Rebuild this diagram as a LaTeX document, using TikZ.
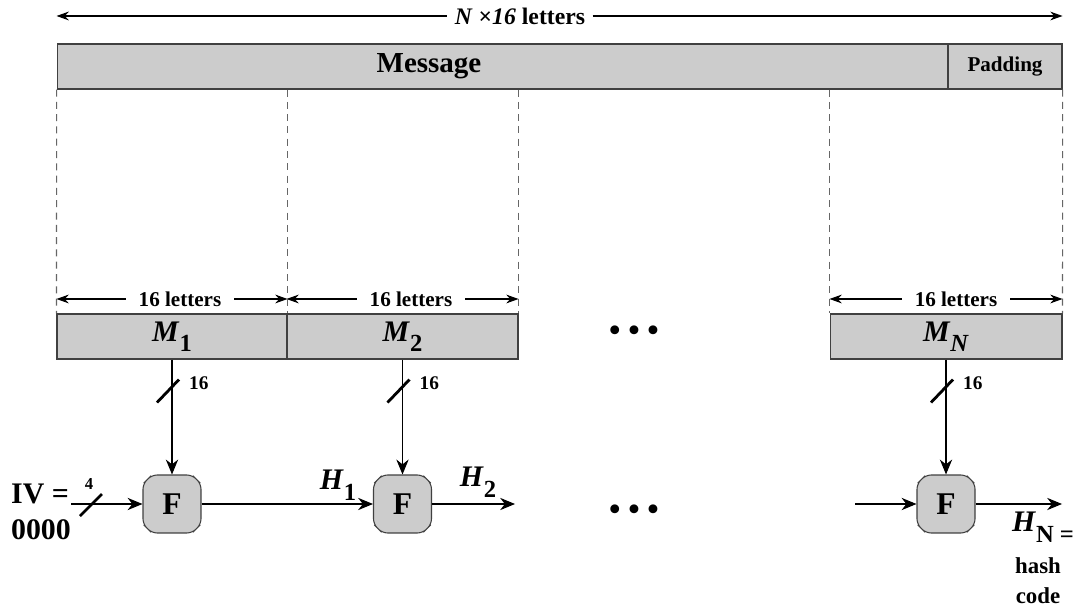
\documentclass[tikz,border=0pt]{standalone}
\usepackage{fontspec}
\setmainfont{Liberation Serif}
\usepackage{tikz}
\usetikzlibrary{arrows.meta}
\usetikzlibrary{shapes.misc}
\usetikzlibrary{positioning}

\newcommand{\lowsub}[1]{\raisebox{-0.35em}{\fontsize{14}{14}\selectfont #1}}

\begin{document}
\begin{tikzpicture}[x=0.02cm, y=-0.02cm, line width=0.6pt,
                    >={Stealth[length=7pt,width=5pt]}]
	\useasboundingbox (0,0) rectangle (1077,607);

	\begin{scope}[every node/.style={draw=black!75, fill=black!20, minimum height=0.9cm, inner sep=0pt,
	              font=\fontsize{17}{19}\selectfont\bfseries}]
		\node[minimum width=17.82cm] (msg) at (502.5,66.5) {};
		\node[minimum width=2.28cm, font=\fontsize{12}{14}\selectfont\bfseries] (pad) at (1005,66.5) {Padding};
		\node[minimum width=4.6cm] (m1) at (172,336.5) {\textit{M}\lowsub{1}};
		\node[minimum width=4.62cm] (m2) at (402.5,336.5) {\textit{M}\lowsub{2}};
		\node[minimum width=4.64cm] (mn) at (946,336.5) {\textit{M}\lowsub{\textit{N}}};
	\end{scope}
	\node[font=\fontsize{16.5}{18}\selectfont\bfseries] (msgtxt) at (429,66.5) {Message};

	% lengths
	\begin{scope}[every node/.style={inner xsep=7pt, inner ysep=0pt, font=\fontsize{12}{14}\selectfont\bfseries}]
		\node[font=\fontsize{13.5}{15}\selectfont\bfseries, inner xsep=4pt] (top) at (520,16) {\textit{N} ×\textit{16} letters};
		\node (l1) at (180,299) {16 letters};
		\node (l2) at (411,299) {16 letters};
		\node (ln) at (956,299) {16 letters};
	\end{scope}
	\draw[<-] (msg.north west |- top.west) -- (top.west);
	\draw[->] (top.east) -- (pad.north east |- top.east);
	\draw[<-] (m1.north west |- l1.west) -- (l1.west);
	\draw[->] (l1.east) -- (m1.north east |- l1.east);
	\draw[<-] (m2.north west |- l2.west) -- (l2.west);
	\draw[->] (l2.east) -- (m2.north east |- l2.east);
	\draw[<-] (mn.north west |- ln.west) -- (ln.west);
	\draw[->] (ln.east) -- (mn.north east |- ln.east);

	\begin{scope}[draw=black!60, dash pattern=on 4pt off 3pt]
		\draw (msg.south west) -- (m1.north west);
		\draw (m1.north east |- msg.south) -- (m1.north east);
		\draw (m2.north east |- msg.south) -- (m2.north east);
		\draw (mn.north west |- msg.south) -- (mn.north west);
		\draw (pad.south east) -- (mn.north east);
	\end{scope}

	% compression row
	\coordinate (row) at (0,504);
	\begin{scope}[every node/.style={chamfered rectangle, chamfered rectangle xsep=2.5pt,
	              chamfered rectangle ysep=2.5pt, rounded corners=3pt, draw=black!75, fill=black!20,
	              minimum width=1.16cm, minimum height=1.16cm, inner sep=0pt,
	              font=\fontsize{18}{20}\selectfont\bfseries}]
		\node (f1) at (m1 |- row) {F};
		\node (f2) at (m2 |- row) {F};
		\node (fn) at (mn |- row) {F};
	\end{scope}

	\coordinate (ivin) at (71,504);
	\coordinate (h2out) at (515,504);
	\coordinate (fnin) at (855,504);
	\coordinate (hnout) at (1062,504);

	\begin{scope}[>={Stealth[length=8.5pt,width=7pt]}]
		\draw[->] (m1.south) -- (f1.north);
		\draw[->] (m2.south) -- (f2.north);
		\draw[->] (mn.south) -- (fn.north);
		\draw[->] (ivin) -- (f1.west);
		\draw[->] (f1.east) -- (f2.west);
		\draw[->] (f2.east) -- (h2out);
		\draw[->] (fnin) -- (fn.west);
		\draw[->] (fn.east) -- (hnout);
	\end{scope}

	% bus widths
	\begin{scope}[line width=1.6pt, every node/.style={inner sep=0pt, font=\fontsize{11}{12}\selectfont\bfseries}]
		\draw (m1.south) ++(-15,43) -- ++(22,-23) node[anchor=west, xshift=5pt, yshift=-2pt] (w1) {16};
		\draw (m2.south) ++(-15,43) -- ++(22,-23) node[anchor=west, xshift=5pt, yshift=-2pt] (w2) {16};
		\draw (mn.south) ++(-15,43) -- ++(22,-23) node[anchor=west, xshift=5pt, yshift=-2pt] (wn) {16};
		\draw (ivin) ++(9,12) -- ++(22,-22);
	\end{scope}
	\node[inner sep=0pt, font=\fontsize{9.5}{11}\selectfont\bfseries] (w0) at (89,484) {4};

	% labels
	\begin{scope}[every node/.style={inner sep=0pt, font=\fontsize{17}{19}\selectfont\bfseries}]
		\node (iv) at (40,494) {IV =};
		\node (iv0) at (41,530) {0000};
		\node (h1) at (338,485) {\textit{H}\lowsub{1}};
		\node (h2) at (478,482) {\textit{H}\lowsub{2}};
		\node (hn) at (1043,527) {\textit{H}\lowsub{N =}};
		\node[font=\fontsize{13}{15}\selectfont\bfseries] (hash) at (1038,566) {hash};
		\node[font=\fontsize{13}{15}\selectfont\bfseries] (code) at (1038,596) {code};
		\node[font=\fontsize{21}{23}\selectfont] (dots1) at (634,334) {•\,•\,•};
		\node[font=\fontsize{21}{23}\selectfont] (dots2) at (634,513) {•\,•\,•};
	\end{scope}
\end{tikzpicture}
\end{document}
